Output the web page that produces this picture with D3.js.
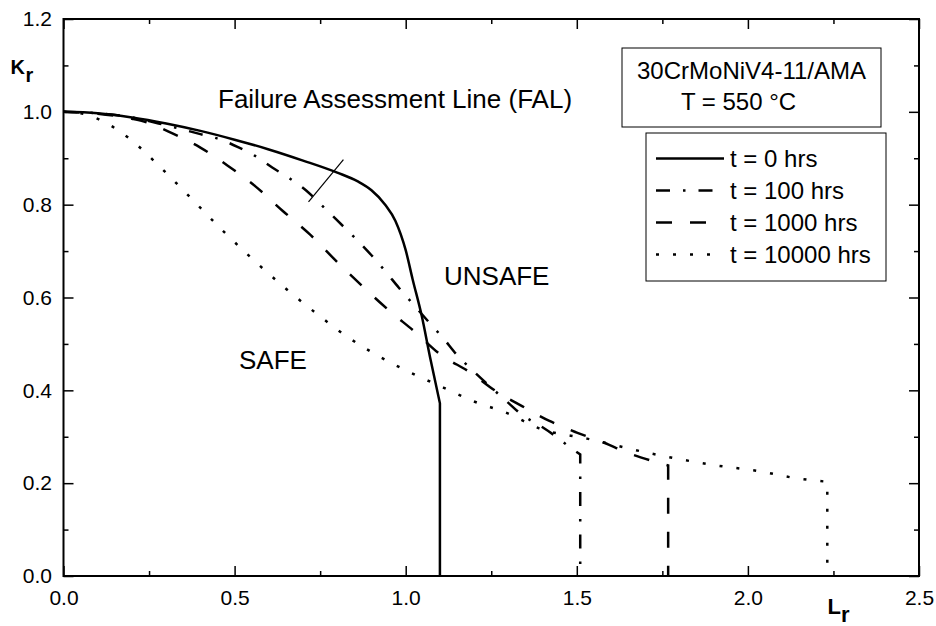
<!DOCTYPE html>
<html>
<head>
    <title>Failure Assessment Diagram</title>
    <script src="https://d3js.org/d3.v7.min.js"></script>
    <style>
        body {
            margin: 0;
            background: #fff;
            font-family: "Liberation Sans", Arial, sans-serif;
        }
        .tick text {
            font-family: "Liberation Sans", Arial, sans-serif;
            font-size: 21px;
            fill: #000;
        }
        .tick line {
            stroke: #000;
            stroke-width: 1.5;
        }
        .note {
            font-size: 26px;
            fill: #000;
        }
        .legend-text {
            font-size: 24px;
            fill: #000;
        }
        .curve {
            fill: none;
            stroke: #000;
            stroke-width: 2.5;
        }
    </style>
</head>
<body>
    <div id="chart"></div>
    <script>
        // axis ticks
        const xMajor = [0, 0.5, 1.0, 1.5, 2.0, 2.5];
        const xMinor = [0.25, 0.75, 1.25, 1.75, 2.25];
        const yMajor = [0, 0.2, 0.4, 0.6, 0.8, 1.0, 1.2];
        const yMinor = [0.1, 0.3, 0.5, 0.7, 0.9, 1.1];

        // t = 0 hrs
        const lrT0 = [0, 0.1, 0.2, 0.3, 0.4, 0.5, 0.6, 0.7, 0.8, 0.86, 0.9, 0.94, 0.97, 1.0, 1.02, 1.047, 1.071, 1.10];
        const krT0 = [1.0, 0.997, 0.988, 0.975, 0.959, 0.940, 0.919, 0.895, 0.869, 0.850, 0.831, 0.800, 0.765, 0.702, 0.640, 0.560, 0.472, 0.372];
        // t = 100 hrs
        const lrT100 = [0, 0.1, 0.2, 0.3, 0.4, 0.46, 0.51, 0.56, 0.61, 0.66, 0.71, 0.75, 0.80, 0.90, 0.94, 0.98, 1.02, 1.07, 1.11, 1.15, 1.20, 1.25, 1.30, 1.34, 1.39, 1.44, 1.475, 1.51];
        const krT100 = [1.0, 0.997, 0.988, 0.971, 0.952, 0.940, 0.924, 0.905, 0.880, 0.857, 0.830, 0.802, 0.766, 0.691, 0.657, 0.621, 0.587, 0.545, 0.512, 0.476, 0.440, 0.406, 0.373, 0.347, 0.325, 0.300, 0.280, 0.262];
        // t = 1000 hrs
        const lrT1000 = [0, 0.1, 0.2, 0.24, 0.32, 0.40, 0.48, 0.56, 0.64, 0.72, 0.795, 0.874, 0.95, 1.03, 1.10, 1.19, 1.26, 1.34, 1.42, 1.50, 1.58, 1.65, 1.73, 1.767];
        const krT1000 = [1.0, 0.996, 0.985, 0.978, 0.953, 0.923, 0.884, 0.840, 0.787, 0.736, 0.680, 0.624, 0.573, 0.524, 0.478, 0.438, 0.400, 0.366, 0.334, 0.309, 0.287, 0.265, 0.246, 0.238];
        // t = 10000 hrs
        const lrT10000 = [0, 0.05, 0.10, 0.19, 0.28, 0.37, 0.46, 0.555, 0.65, 0.74, 0.83, 0.925, 1.02, 1.11, 1.20, 1.30, 1.39, 1.53, 1.71, 1.90, 2.04, 2.13, 2.232];
        const krT10000 = [1.0, 0.997, 0.985, 0.944, 0.883, 0.816, 0.748, 0.681, 0.619, 0.565, 0.515, 0.472, 0.436, 0.406, 0.376, 0.350, 0.318, 0.296, 0.265, 0.239, 0.225, 0.212, 0.203];

        const seriesLabels = ["t = 0 hrs", "t = 100 hrs", "t = 1000 hrs", "t = 10000 hrs"];
        const seriesDash = [null, "14,13,2.5,13", "16,18", "3,14"];
        const seriesLr = [lrT0, lrT100, lrT1000, lrT10000];
        const seriesKr = [krT0, krT100, krT1000, krT10000];

        const width = 936;
        const height = 626;

        const svg = d3.select("#chart")
            .append("svg")
            .attr("width", width)
            .attr("height", height);
        svg.append("rect")
            .attr("width", width)
            .attr("height", height)
            .attr("fill", "#fff");

        const x = d3.scaleLinear().domain([0, 2.5]).range([63.5, 919]);
        const y = d3.scaleLinear().domain([0, 1.2]).range([576, 19]);
        const fmt = d3.format(".1f");

        function tidy(g) {
            g.select(".domain").remove();
        }

        // bottom axis
        svg.append("g")
            .attr("transform", `translate(0,${y(0)})`)
            .call(d3.axisBottom(x).tickValues(xMajor).tickSize(-10).tickSizeOuter(0).tickPadding(14).tickFormat(fmt))
            .call(tidy);
        svg.append("g")
            .attr("transform", `translate(0,${y(0)})`)
            .call(d3.axisBottom(x).tickValues(xMinor).tickSize(-5).tickSizeOuter(0).tickFormat(""))
            .call(tidy);
        // top axis (ticks only)
        svg.append("g")
            .attr("transform", `translate(0,${y(1.2)})`)
            .call(d3.axisTop(x).tickValues(xMajor).tickSize(-10).tickSizeOuter(0).tickFormat(""))
            .call(tidy);
        svg.append("g")
            .attr("transform", `translate(0,${y(1.2)})`)
            .call(d3.axisTop(x).tickValues(xMinor).tickSize(-5).tickSizeOuter(0).tickFormat(""))
            .call(tidy);
        // left axis
        svg.append("g")
            .attr("transform", `translate(${x(0)},0)`)
            .call(d3.axisLeft(y).tickValues(yMajor).tickSize(-10).tickSizeOuter(0).tickPadding(11.5).tickFormat(fmt))
            .call(tidy);
        svg.append("g")
            .attr("transform", `translate(${x(0)},0)`)
            .call(d3.axisLeft(y).tickValues(yMinor).tickSize(-5).tickSizeOuter(0).tickFormat(""))
            .call(tidy);
        // right axis (ticks only)
        svg.append("g")
            .attr("transform", `translate(${x(2.5)},0)`)
            .call(d3.axisRight(y).tickValues(yMajor).tickSize(-10).tickSizeOuter(0).tickFormat(""))
            .call(tidy);
        svg.append("g")
            .attr("transform", `translate(${x(2.5)},0)`)
            .call(d3.axisRight(y).tickValues(yMinor).tickSize(-5).tickSizeOuter(0).tickFormat(""))
            .call(tidy);

        // frame
        svg.append("rect")
            .attr("x", x(0))
            .attr("y", y(1.2))
            .attr("width", x(2.5) - x(0))
            .attr("height", y(0) - y(1.2))
            .attr("fill", "none")
            .attr("stroke", "#000")
            .attr("stroke-width", 2);

        // curves, each ending with a vertical cut-off down to Kr = 0
        const line = d3.line()
            .x(d => x(d[0]))
            .y(d => y(d[1]))
            .curve(d3.curveMonotoneX);

        seriesLr.forEach((lr, i) => {
            const pts = lr.map((v, j) => [v, seriesKr[i][j]]);
            const last = lr[lr.length - 1];
            svg.append("path")
                .attr("class", "curve")
                .attr("d", line(pts) + `L${x(last)},${y(0)}`)
                .attr("stroke-dasharray", seriesDash[i]);
        });

        // short marker line across the FAL
        svg.append("line")
            .attr("x1", x(0.716)).attr("y1", y(0.806))
            .attr("x2", x(0.818)).attr("y2", y(0.897))
            .attr("stroke", "#000")
            .attr("stroke-width", 1.2);

        // annotations
        svg.append("text").attr("class", "note")
            .attr("x", 218).attr("y", 108)
            .text("Failure Assessment Line (FAL)");
        svg.append("text").attr("class", "note")
            .attr("x", 444).attr("y", 285)
            .text("UNSAFE");
        svg.append("text").attr("class", "note")
            .attr("x", 239).attr("y", 369)
            .text("SAFE");

        // axis titles
        const kr = svg.append("text")
            .attr("x", 10.5).attr("y", 73.5)
            .attr("font-weight", "bold")
            .attr("font-size", 20);
        kr.append("tspan").text("K");
        kr.append("tspan").attr("dy", 8).attr("dx", 0.5).text("r");

        const lrTitle = svg.append("text")
            .attr("x", 827.5).attr("y", 614)
            .attr("font-weight", "bold")
            .attr("font-size", 22);
        lrTitle.append("tspan").text("L");
        lrTitle.append("tspan").attr("dy", 8).text("r");

        // material box
        svg.append("rect")
            .attr("x", 622).attr("y", 48)
            .attr("width", 259).attr("height", 79)
            .attr("fill", "#fff")
            .attr("stroke", "#000")
            .attr("stroke-width", 1);
        svg.append("text").attr("class", "legend-text")
            .attr("x", 751.5).attr("y", 78.5)
            .attr("text-anchor", "middle")
            .text("30CrMoNiV4-11/AMA");
        svg.append("text").attr("class", "legend-text")
            .attr("x", 738.5).attr("y", 110)
            .attr("text-anchor", "middle")
            .text("T = 550 °C");

        // legend
        svg.append("rect")
            .attr("x", 646).attr("y", 133)
            .attr("width", 240).attr("height", 148)
            .attr("fill", "#fff")
            .attr("stroke", "#000")
            .attr("stroke-width", 1);
        seriesLabels.forEach((label, i) => {
            const base = 167 + i * 32;
            svg.append("line")
                .attr("class", "curve")
                .attr("x1", 656).attr("x2", 724)
                .attr("y1", base - 8.5).attr("y2", base - 8.5)
                .attr("stroke-dasharray", seriesDash[i]);
            svg.append("text").attr("class", "legend-text")
                .attr("x", 730).attr("y", base)
                .text(label);
        });
    </script>
</body>
</html>
